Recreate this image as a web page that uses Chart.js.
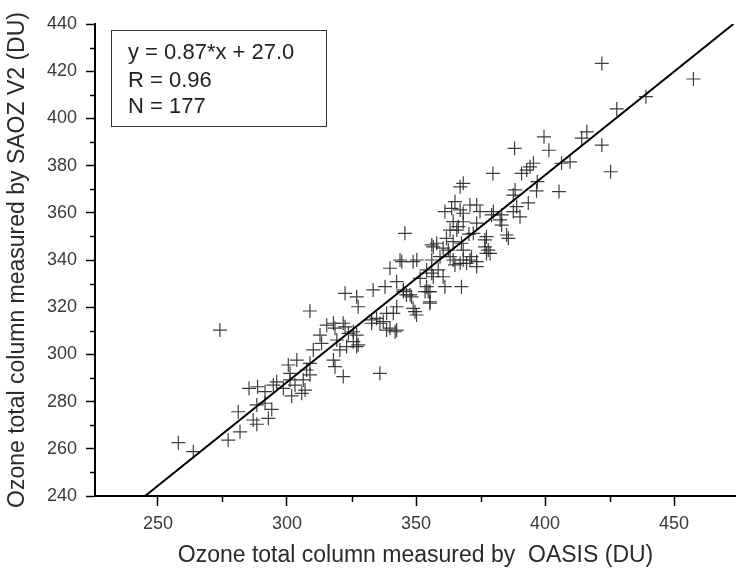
<!DOCTYPE html>
<html><head><meta charset="utf-8">
<script src="https://cdn.jsdelivr.net/npm/chart.js@4/dist/chart.umd.min.js"></script>
<style>html,body{margin:0;padding:0;background:#fff;overflow:hidden}</style>
</head><body>
<canvas id="c" width="736" height="570"></canvas>
<script>
// OASIS (x) vs SAOZ V2 (y) total ozone, DU
const oasisX = [
257.9,263.7,274.0,277.2,281.8,281.1,286.9,288.3,292.8,294.1,
285.3,288.6,291.5,288.3,291.5,294.7,296.0,298.6,301.2,303.1,
306.3,307.0,301.8,305.7,308.9,301.2,300.5,303.8,308.9,307.6,
318.0,318.6,321.8,336.0,312.8,313.4,310.2,319.3,320.5,323.1,
325.7,327.0,308.9,318.0,322.5,325.7,327.0,315.4,318.6,321.8,
323.8,327.6,322.5,327.0,333.4,338.0,327.6,332.8,338.6,342.5,
334.7,337.3,339.9,341.9,349.6,332.8,336.0,341.2,342.5,338.6,
355.4,342.5,345.1,347.7,345.1,346.3,348.3,354.1,354.7,355.4,
361.2,367.6,348.9,350.2,343.8,350.3,339.9,344.5,348.9,345.7,
354.1,356.7,351.6,356.1,358.6,360.5,353.5,355.4,356.7,356.1,
358.0,360.5,359.3,356.1,361.8,364.4,362.5,367.6,368.3,371.5,
369.6,373.5,377.3,368.3,373.5,364.4,367.1,363.2,365.1,370.9,
363.2,365.8,368.3,373.5,372.2,376.7,378.0,370.5,377.3,376.7,
382.6,385.8,378.7,385.1,379.3,383.2,364.4,366.4,361.2,365.1,
367.1,370.9,373.5,374.8,363.8,368.3,380.0,383.2,387.7,389.0,
390.3,393.5,388.4,387.7,396.7,405.4,368.3,367.1,379.8,390.9,
394.2,395.5,397.0,392.9,388.2,399.6,401.5,406.4,409.7,414.2,
416.2,422.0,425.4,422.0,427.8,439.1,457.5];
const saozY = [
262.6,258.8,310.3,263.7,267.2,275.7,272.2,270.4,272.9,276.7,
285.6,286.3,284.2,278.6,279.3,287.0,288.4,285.6,289.2,287.0,
289.2,284.9,282.4,283.5,291.3,292.0,295.5,297.6,296.2,293.4,
297.6,294.8,290.6,292.0,308.2,304.7,301.9,306.1,301.9,303.3,
305.4,303.3,318.4,313.2,311.7,309.6,308.2,312.4,311.1,313.2,
308.9,304.0,325.9,324.4,327.3,328.7,320.2,314.6,317.4,320.2,
315.3,313.9,311.1,309.6,318.1,313.2,313.2,317.4,310.3,310.3,
321.7,330.8,327.3,325.2,326.6,325.2,324.4,328.7,326.6,322.3,
328.7,328.7,319.5,316.7,340.0,340.0,336.5,339.3,339.3,351.3,
335.8,332.9,332.2,334.4,335.8,332.9,326.6,326.6,345.6,346.4,
347.1,345.0,341.4,340.0,349.2,347.8,344.2,347.1,344.2,341.4,
338.6,337.2,342.8,340.0,339.3,340.0,338.6,341.4,337.9,340.0,
352.7,352.7,356.2,355.6,351.3,348.5,344.2,351.0,349.9,345.6,
357.0,349.2,342.8,350.6,359.1,354.8,356.3,354.1,360.5,364.7,
361.2,363.3,363.3,360.5,361.9,359.8,360.5,359.1,360.5,362.6,
358.3,364.2,369.7,367.5,369.3,369.0,372.5,371.0,376.7,376.7,
379.5,381.0,373.2,378.1,387.3,392.2,386.5,381.0,381.6,391.6,
394.3,388.7,377.4,423.3,404.0,409.2,416.7];
// regression line end points
const fitX = [245.0, 473.0];
const fitY = [240.0, 440.0];
// axis ticks
const xMajorTicks = [250, 300, 350, 400, 450];
const xMinorTicks = [275, 325, 375, 425];
const yMajorTicks = [240, 260, 280, 300, 320, 340, 360, 380, 400, 420, 440];
const yMinorTicks = [250, 270, 290, 310, 330, 350, 370, 390, 410, 430];
const statsLines = ['y = 0.87*x + 27.0', 'R = 0.96', 'N = 177'];
const xTitle = 'Ozone total column measured by  OASIS (DU)';
const yTitle = 'Ozone total column measured by SAOZ V2 (DU)';

const FONT = "'Liberation Sans', Arial, sans-serif";
const points = oasisX.map((x, i) => ({x: x, y: saozY[i]}));
const fitLine = fitX.map((x, i) => ({x: x, y: fitY[i]}));

const extras = {
  id: 'extras',
  afterDraw(chart) {
    const ctx = chart.ctx;
    const xs = chart.scales.x, ys = chart.scales.y;
    ctx.save();
    ctx.strokeStyle = '#000';
    ctx.lineWidth = 1.5;
    ctx.beginPath();
    yMinorTicks.forEach(v => {
      const p = Math.round(ys.getPixelForValue(v)) + 0.5;
      ctx.moveTo(ys.right, p); ctx.lineTo(ys.right - 5, p);
    });
    xMinorTicks.forEach(v => {
      const p = Math.round(xs.getPixelForValue(v)) + 0.5;
      ctx.moveTo(p, xs.top); ctx.lineTo(p, xs.top + 6);
    });
    ctx.stroke();
    // stats box
    ctx.strokeStyle = '#333';
    ctx.lineWidth = 1;
    ctx.strokeRect(111.5, 30.5, 215, 96);
    ctx.fillStyle = '#222';
    ctx.font = '22px ' + FONT;
    ctx.textBaseline = 'middle';
    ctx.textAlign = 'left';
    const ys0 = [53, 81, 107];
    statsLines.forEach((t, i) => ctx.fillText(t, 128, ys0[i]));
    ctx.restore();
  }
};

new Chart(document.getElementById('c'), {
  type: 'scatter',
  data: {
    datasets: [
      {
        type: 'line',
        data: fitLine,
        borderColor: '#000',
        borderWidth: 2,
        pointRadius: 0,
        fill: false,
        showLine: true
      },
      {
        data: points,
        pointStyle: 'cross',
        pointRadius: 7,
        pointHoverRadius: 7,
        borderColor: 'rgba(40,40,40,0.9)',
        backgroundColor: 'rgba(40,40,40,0.9)',
        pointBorderWidth: 1.2,
        borderWidth: 1.2
      }
    ]
  },
  options: {
    responsive: false,
    animation: false,
    devicePixelRatio: 1,
    layout: {autoPadding: false, padding: {top: 24, left: 0, right: 0, bottom: 0}},
    plugins: {legend: {display: false}, tooltip: {enabled: false}},
    scales: {
      x: {
        type: 'linear',
        min: 225.6,
        max: 474.0,
        afterBuildTicks: s => { s.ticks = xMajorTicks.map(v => ({value: v})); },
        afterFit: s => { s.height = 74; s.paddingLeft = 0; s.paddingRight = 0; },
        border: {color: '#000', width: 2},
        grid: {drawOnChartArea: false, drawTicks: true, tickLength: 10, tickColor: '#000', tickWidth: 1.5},
        ticks: {color: '#3a3a3a', font: {family: FONT, size: 18}, padding: 7, maxRotation: 0},
        title: {display: true, text: xTitle, color: '#2a2a2a', font: {family: FONT, size: 23}, padding: {top: 0, bottom: 1}}
      },
      y: {
        type: 'linear',
        min: 240,
        max: 440,
        afterBuildTicks: s => { s.ticks = yMajorTicks.map(v => ({value: v})); },
        afterFit: s => { s.width = 95; },
        border: {color: '#000', width: 2},
        grid: {drawOnChartArea: false, drawTicks: true, tickLength: 9, tickColor: '#000', tickWidth: 1.5},
        ticks: {color: '#3a3a3a', font: {family: FONT, size: 18}, padding: 9},
        title: {display: true, text: yTitle, color: '#2a2a2a', font: {family: FONT, size: 23}, padding: {top: 4, bottom: 0}}
      }
    }
  },
  plugins: [extras]
});
</script>
</body></html>
